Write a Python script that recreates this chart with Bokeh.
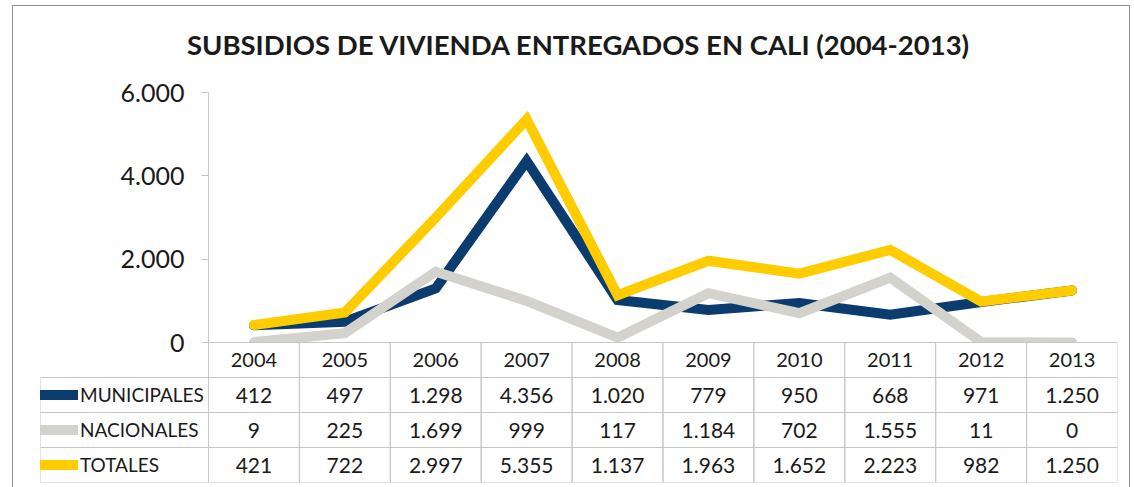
from bokeh.plotting import figure
from bokeh.models import Range1d, Legend, LegendItem, FixedTicker, CustomJSTickFormatter
from bokeh.core.properties import value
from bokeh.embed import file_html
from bokeh.resources import INLINE

# ---------------- data ----------------
years = ["2004", "2005", "2006", "2007", "2008", "2009", "2010", "2011", "2012", "2013"]
series_names = ["MUNICIPALES", "NACIONALES", "TOTALES"]
municipales = [412, 497, 1298, 4356, 1020, 779, 950, 668, 971, 1250]
nacionales = [9, 225, 1699, 999, 117, 1184, 702, 1555, 11, 0]
totales = [421, 722, 2997, 5355, 1137, 1963, 1652, 2223, 982, 1250]
y_ticks = [0, 2000, 4000, 6000]
title_text = "SUBSIDIOS DE VIVIENDA ENTREGADOS EN CALI (2004-2013)"

colors = {"MUNICIPALES": "#0b3c70", "NACIONALES": "#d3d2cd", "TOTALES": "#ffcc00"}
values = {"MUNICIPALES": municipales, "NACIONALES": nacionales, "TOTALES": totales}
FONT = "Lato"
GRID = "#c6c6c6"
TXT = "#1a1a1a"

def fmt(v):
    return f"{v:,}".replace(",", ".")

# ---------------- layout constants (pixels) ----------------
W, H = 1126, 484
BL, BR, BT, BB = 40, 9, 80, 2          # borders around the frame
FRAME_W = W - BL - BR
CHART_H = 250                          # height of the 0..6000 part
TOP_PAD = 12                           # room above 6000 inside the frame
ROW_H = 35                             # table row height
N_ROWS = 1 + len(series_names)
LABEL_PX = 168                         # width of label column
Y_MAX = y_ticks[-1]
units_per_px = Y_MAX / CHART_H
y_start = -N_ROWS * ROW_H * units_per_px
y_end = Y_MAX + TOP_PAD * units_per_px
col_px = (FRAME_W - LABEL_PX) / len(years)
label_w = LABEL_PX / col_px            # in column units

p = figure(width=W, height=H, x_range=Range1d(-label_w, len(years)),
           y_range=Range1d(y_start, y_end),
           output_backend="svg", toolbar_location=None, x_axis_location=None,
           min_border_left=BL, min_border_right=BR, min_border_top=BT, min_border_bottom=BB)
p.title.text = title_text
p.title.align = "center"
p.title.text_font = FONT
p.title.text_font_style = "bold"
p.title.text_font_size = "27.5px"
p.title.text_color = TXT
p.title.standoff = 40
p.outline_line_color = None
p.grid.visible = False

ax = p.yaxis[0]
ax.fixed_location = 0
ax.bounds = (0, Y_MAX)
ax.ticker = FixedTicker(ticks=y_ticks)
ax.formatter = CustomJSTickFormatter(code="return tick.toLocaleString('de-DE');")
ax.major_label_text_font = FONT
ax.major_label_text_font_size = "25px"
ax.major_label_text_color = TXT
ax.major_label_standoff = 17
ax.axis_line_color = GRID
ax.major_tick_line_color = GRID
ax.major_tick_out = 7
ax.major_tick_in = 0
ax.minor_tick_line_color = None

xc = [i + 0.5 for i, _ in enumerate(years)]

renderers = {}
for name in series_names:
    renderers[name] = p.line(x=xc, y=values[name], line_color=colors[name], line_width=10,
                             line_cap="round", line_join="miter")

# ---------------- table ----------------
row_h_u = ROW_H * units_per_px
row_y = {}
for k, name in enumerate(["header"] + series_names):
    row_y[name] = -(k + 0.5) * row_h_u

# header row (white fill hides the part of lines below the 0 axis)
p.rect(x=xc, y=[row_y["header"]] * len(years), width=1, height=row_h_u,
       fill_color="white", line_color=GRID, line_width=1)
p.text(x=xc, y=[row_y["header"]] * len(years), text=years, text_align="center",
       text_baseline="middle", text_font=value(FONT), text_font_size="20px", text_color=TXT)

cell_x, cell_y = [], []
for name in series_names:
    for x in xc:
        cell_x.append(x)
        cell_y.append(row_y[name])
p.rect(x=cell_x, y=cell_y, width=1, height=row_h_u, fill_color=None, line_color=GRID, line_width=1)
p.rect(x=[-label_w / 2] * len(series_names), y=[row_y[n] for n in series_names],
       width=label_w, height=row_h_u, fill_color=None, line_color=GRID, line_width=1)

for name in series_names:
    p.text(x=xc, y=[row_y[name]] * len(years), text=[fmt(v) for v in values[name]],
           text_align="center", text_baseline="middle",
           text_font=value(FONT), text_font_size="21px", text_color=TXT)

legend = Legend(items=[LegendItem(label=n, renderers=[renderers[n]]) for n in series_names],
                location="bottom_left", margin=0, padding=0, spacing=0,
                glyph_width=38, glyph_height=ROW_H, label_height=ROW_H, label_standoff=2,
                border_line_color=None, background_fill_alpha=0,
                label_text_font=FONT, label_text_font_size="19px", label_text_color=TXT)
p.add_layout(legend)

html = file_html(p, INLINE)
frame_box = ("<div style=\"position:fixed;left:12px;top:5px;width:1116px;height:500px;"
             "border:1px solid #8f8f8f;pointer-events:none;z-index:10\"></div>")
html = html.replace("</body>", frame_box + "</body>")
open("out.html", "w").write(html)
